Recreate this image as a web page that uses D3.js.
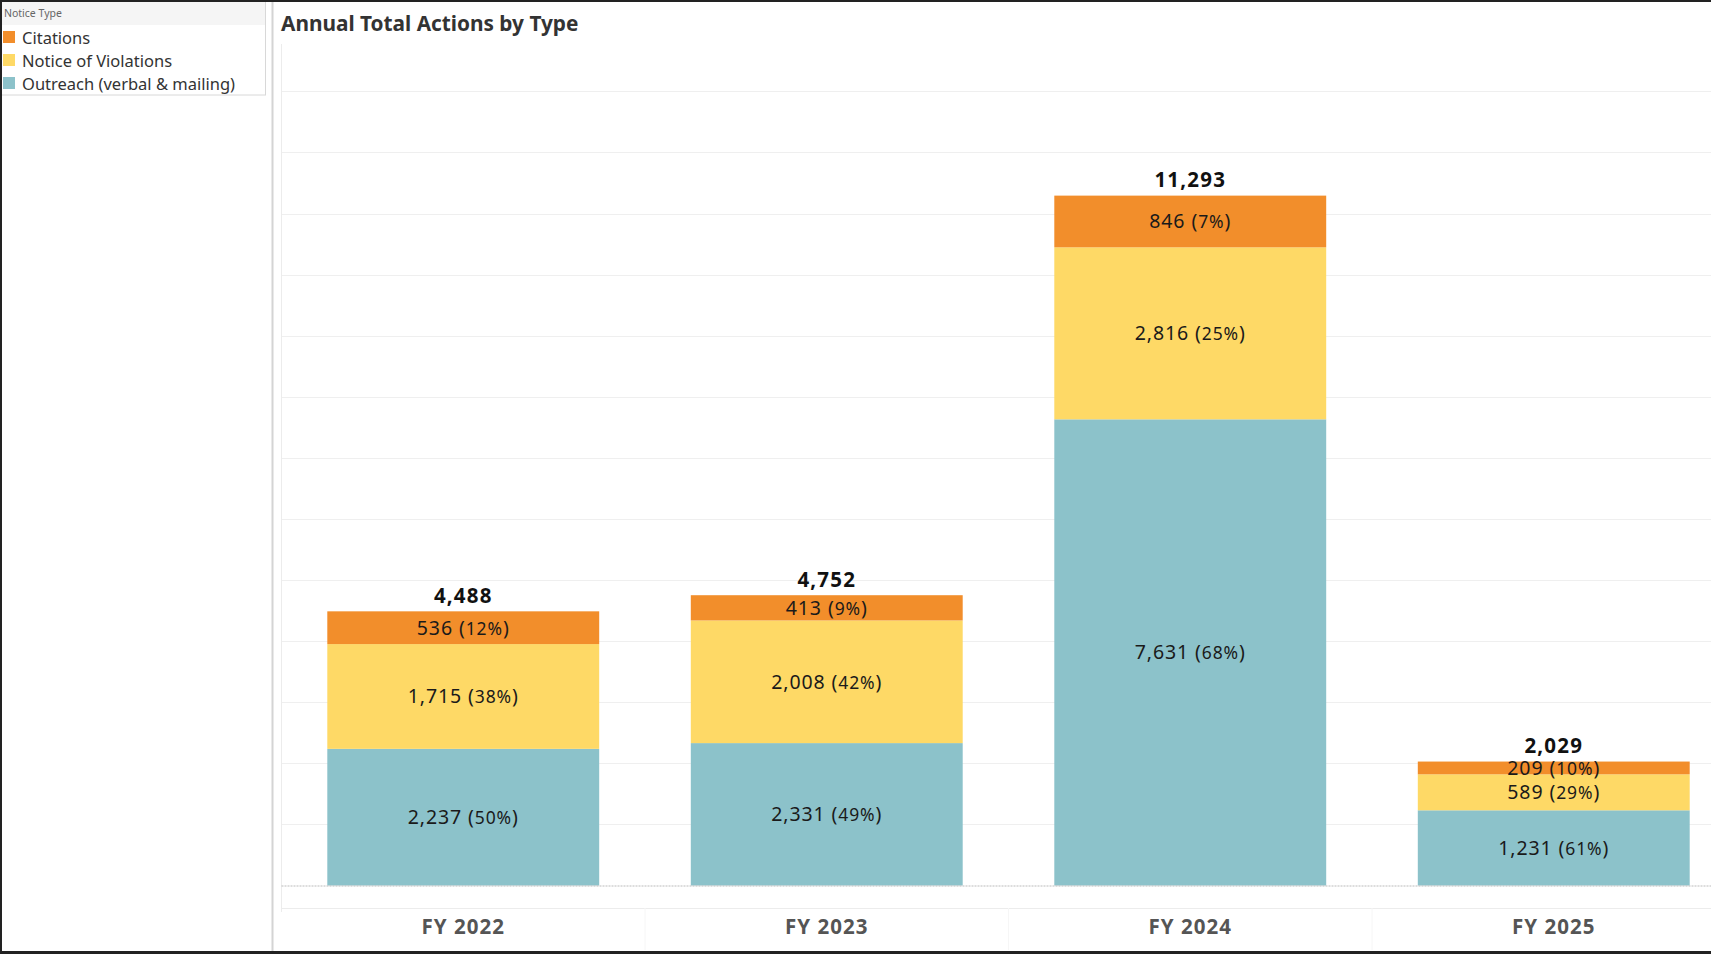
<!DOCTYPE html>
<html>
<head>
<meta charset="utf-8">
<script src="https://cdn.jsdelivr.net/npm/d3@7"></script>
<style>
  html, body { margin: 0; padding: 0; background: #fff; }
  svg { display: block; }
</style>
</head>
<body>
<svg id="chart" width="1711" height="954"></svg>
<script>
// Fiscal years shown along the x axis
const years = ["FY 2022", "FY 2023", "FY 2024", "FY 2025"];
// Notice types, stacked from the bottom up
const noticeTypes = ["Outreach (verbal & mailing)", "Notice of Violations", "Citations"];
// Legend order (top to bottom)
const legendOrder = ["Citations", "Notice of Violations", "Outreach (verbal & mailing)"];
// Counts per year for each notice type
const outreach = [2237, 2331, 7631, 1231];
const noticeOfViolations = [1715, 2008, 2816, 589];
const citations = [536, 413, 846, 209];
// Value-axis gridlines
const gridTicks = [1000, 2000, 3000, 4000, 5000, 6000, 7000, 8000, 9000, 10000, 11000, 12000, 13000];

const colors = {
  "Citations": "#F28E2B",
  "Notice of Violations": "#FED966",
  "Outreach (verbal & mailing)": "#8CC2CA"
};

const rows = years.map((y, i) => ({
  year: y,
  "Outreach (verbal & mailing)": outreach[i],
  "Notice of Violations": noticeOfViolations[i],
  "Citations": citations[i]
}));
rows.forEach(r => { r.total = noticeTypes.reduce((s, k) => s + r[k], 0); });

const svg = d3.select("#chart");
const W = 1711, H = 954;
const font = "'Noto Sans', 'Open Sans', sans-serif";

// Plot geometry
const plotLeft = 281.5, plotTop = 44, baseY = 885.5;
const step = 363.5;

const x = d3.scaleBand()
  .domain(years)
  .range([plotLeft, plotLeft + step * years.length])
  .paddingInner(0.252)
  .paddingOuter(0.126);

const y = d3.scaleLinear()
  .domain([0, 13775])
  .range([baseY, plotTop]);

// ---- Left legend panel ----
const legend = svg.append("g");
legend.append("rect").attr("x", 0.5).attr("y", 0.5).attr("width", 265).attr("height", 94.5)
  .attr("fill", "#fff").attr("stroke", "#d8d8d8");
legend.append("rect").attr("x", 1).attr("y", 1).attr("width", 264).attr("height", 24)
  .attr("fill", "#f5f5f5");
legend.append("text").attr("x", 4).attr("y", 17).text("Notice Type")
  .attr("font-family", font).attr("font-size", 10.5).attr("fill", "#666");
legendOrder.forEach((k, i) => {
  const cy = 38 + i * 23;
  legend.append("rect").attr("x", 3).attr("y", cy - 7).attr("width", 12).attr("height", 12)
    .attr("fill", colors[k]);
  legend.append("text").attr("x", 22).attr("y", cy + 6).text(k)
    .attr("font-family", font).attr("font-size", 16.5).attr("fill", "#333");
});

// Divider between legend panel and chart
svg.append("line").attr("x1", 272.5).attr("x2", 272.5).attr("y1", 0).attr("y2", H)
  .attr("stroke", "#d4d4d4").attr("stroke-width", 2);

// ---- Title ----
svg.append("text").attr("x", 281).attr("y", 31).text("Annual Total Actions by Type")
  .attr("font-family", font).attr("font-weight", 700).attr("font-size", 20.8).attr("fill", "#333");

// ---- Gridlines ----
const grid = svg.append("g");
grid.selectAll("line.grid").data(gridTicks).join("line")
  .attr("class", "grid")
  .attr("x1", plotLeft).attr("x2", W)
  .attr("y1", d => Math.round(y(d)) + 0.5).attr("y2", d => Math.round(y(d)) + 0.5)
  .attr("stroke", "#efefef").attr("stroke-width", 1);

// Plot area left edge
svg.append("line").attr("x1", plotLeft).attr("x2", plotLeft).attr("y1", plotTop).attr("y2", 912)
  .attr("stroke", "#ececec");

// Header separator below the plot
svg.append("line").attr("x1", plotLeft).attr("x2", W).attr("y1", 908.5).attr("y2", 908.5)
  .attr("stroke", "#ececec");
// Column dividers in the year header
years.slice(1).forEach(yr => {
  const xx = x(yr) - x.step() * x.paddingInner() / 2;
  svg.append("line").attr("x1", xx).attr("x2", xx).attr("y1", 908).attr("y2", 950)
    .attr("stroke", "#f6f6f6");
});

// ---- Stacked bars ----
const stack = d3.stack().keys(noticeTypes)(rows);
const barG = svg.append("g");
stack.forEach(layer => {
  barG.selectAll(null).data(layer).join("rect")
    .attr("x", d => x(d.data.year))
    .attr("width", x.bandwidth())
    .attr("y", d => y(d[1]))
    .attr("height", d => y(d[0]) - y(d[1]))
    .attr("fill", colors[layer.key]);
});

// Baseline (dotted)
svg.append("line").attr("x1", plotLeft).attr("x2", W).attr("y1", baseY + 0.5).attr("y2", baseY + 0.5)
  .attr("stroke", "#bbbbbb").attr("stroke-dasharray", "2,1");

// ---- Segment labels: value (share%) ----
const fmt = d3.format(",");
const labelG = svg.append("g");
stack.forEach(layer => {
  layer.forEach(d => {
    const v = d[1] - d[0];
    const pct = Math.round(v / d.data.total * 100);
    const cx = x(d.data.year) + x.bandwidth() / 2;
    const cy = (y(d[0]) + y(d[1])) / 2;
    const t = labelG.append("text")
      .attr("x", cx).attr("y", cy + 7)
      .attr("text-anchor", "middle")
      .attr("letter-spacing", 0.9)
      .attr("font-family", font).attr("fill", "#1a1a1a");
    t.append("tspan").attr("font-size", 19.5).text(fmt(v) + " ");
    t.append("tspan").attr("font-size", 19.5).text("(");
    t.append("tspan").attr("font-size", 17.5).text(pct + "%");
    t.append("tspan").attr("font-size", 19.5).text(")");
  });
});

// ---- Totals above bars ----
labelG.selectAll("text.total").data(rows).join("text")
  .attr("class", "total")
  .attr("x", d => x(d.year) + x.bandwidth() / 2)
  .attr("y", d => y(d.total) - 8.5)
  .attr("text-anchor", "middle")
  .attr("font-family", font).attr("font-weight", 700).attr("font-size", 20.5)
  .attr("letter-spacing", 1.2)
  .attr("fill", "#111")
  .text(d => fmt(d.total));

// ---- X axis (year labels) ----
const xAxis = d3.axisBottom(x).tickSize(0).tickPadding(0);
const ax = svg.append("g").attr("transform", "translate(0, 934)").call(xAxis);
ax.select(".domain").remove();
ax.selectAll("text")
  .attr("font-family", font).attr("font-weight", 700).attr("font-size", 20.5)
  .attr("letter-spacing", 1)
  .attr("fill", "#555").attr("dy", 0);

// ---- Outer frame ----
svg.append("rect").attr("x", 0).attr("y", 0).attr("width", W).attr("height", 2).attr("fill", "#222");
svg.append("rect").attr("x", 0).attr("y", 0).attr("width", 2).attr("height", H).attr("fill", "#222");
svg.append("rect").attr("x", 0).attr("y", 951).attr("width", W).attr("height", 3).attr("fill", "#222");
</script>
</body>
</html>
